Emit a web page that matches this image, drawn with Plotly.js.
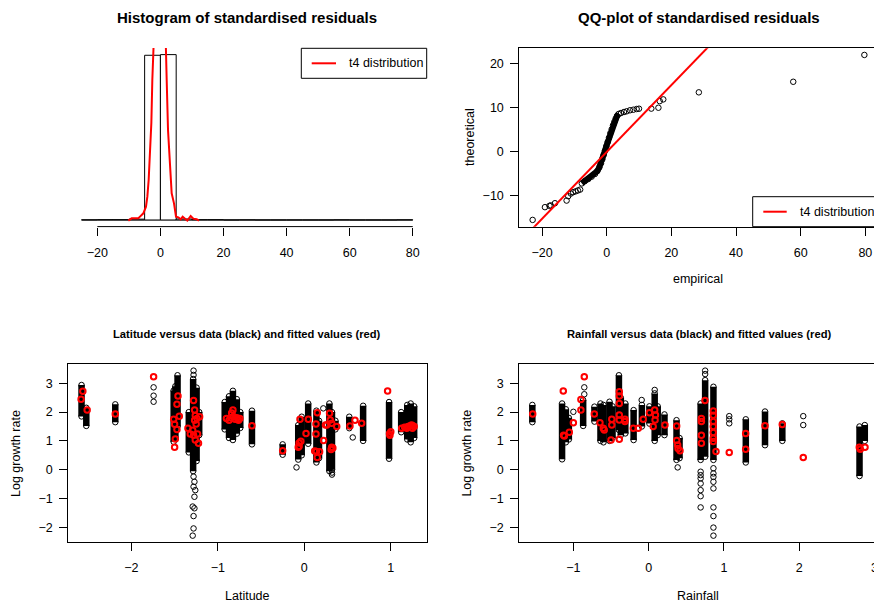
<!DOCTYPE html>
<html><head><meta charset="utf-8">
<script src="https://cdn.plot.ly/plotly-3.0.1.min.js"></script>
<style>html,body{margin:0;padding:0;overflow:hidden;background:#fff}</style>
</head><body>
<div id="chart" style="width:882px;height:603px"></div>
<script>
// ---------- Panel 1: histogram of standardised residuals ----------
const histMid  = [-22.5,-17.5,-12.5,-7.5,-2.5,2.5,7.5,12.5,17.5,22.5,27.5,32.5,37.5,42.5,47.5,52.5,57.5,62.5,67.5,72.5,77.5];
const histDens = [0.0001,0.0002,0.0002,0.0005,0.0989,0.0993,0.0006,0.0002,0.0002,0,0.0001,0,0,0,0,0,0.0001,0,0,0,0.0001];
const t4X = [-10.17,-9.11,-8.05,-7.0,-6.47,-5.41,-4.57,-4.14,-3.72,-3.30,-2.87,-2.56,-2.13,-1.6,-0.3,1.0,1.56,1.99,2.41,3.04,3.57,4.31,4.95,5.69,6.43,7.06,7.80,8.54,9.60,10.44,11.50,12.24];
const t4Y = [-0.0004,0.0010,0.0010,0.0010,0.0020,0.0040,0.0080,0.0140,0.0241,0.0381,0.0582,0.0842,0.1043,0.16,0.2,0.16,0.1043,0.0842,0.0541,0.0301,0.0160,0.0100,0.0020,0.0016,0.0004,0.0020,0.0008,-0.0004,0.0024,0.0008,0.0004,-0.0004];
const histTicks = [-20,0,20,40,60,80];

// ---------- Panel 2: QQ-plot ----------
const qqOuterEmp = [-22.9,-19.1,-17.7,-17.3,-16.0,-12.4,-11.9,-11.1,-10.4,-9.6,-8.9,-8.2,4.42,5.35,6.18,7.21,8.24,9.27,9.99,13.8,16.0,16.4,17.5,28.5,57.7,79.7];
const qqOuterThe = [-15.6,-12.7,-12.4,-12.3,-11.8,-11.2,-10.2,-9.6,-9.3,-9.1,-8.9,-8.7,8.70,8.93,9.09,9.32,9.45,9.61,9.68,9.7,9.9,11.4,11.8,13.4,15.8,21.9];
const qqDenseEmp = [-7.7,-6.71,-5.68,-4.65,-3.62,-2.90,-2.28,-1.76,-1.35,-0.94,-0.53,-0.11,0.30,0.71,1.12,1.54,1.95,2.36,2.77,3.19,3.70];
const qqDenseThe = [-7.3,-6.75,-6.30,-5.77,-5.16,-4.48,-3.64,-2.73,-1.82,-0.84,0.14,1.14,2.11,3.09,4.09,5.0,5.91,6.66,7.41,8.02,8.48];
const qqLineSlope = 0.76, qqLineIntercept = -0.15;
const qqLineX = [-40, 100];
const qqXTicks = [-20,0,20,40,60,80], qqYTicks = [-10,0,10,20];

// ---------- Panel 3: Latitude ----------
const latColX  = [-2.575,-2.52,-2.185,-1.51,-1.49,-1.465,-1.335,-1.285,-1.245,-1.215,-0.92,-0.87,-0.825,-0.78,-0.74,-0.605,-0.25,-0.07,-0.03,0.045,0.14,0.17,0.29,0.32,0.36,0.52,0.68,0.98,1.12,1.19,1.23,1.27];
const latColLo = [1.85,1.52,1.65,0.97,1.1,1.5,0.6,-0.05,0.3,1.2,1.4,1.1,1.03,1.25,1.45,0.88,0.52,0.35,0.5,0.9,0.25,0.4,-0.05,0.0,1.4,1.44,1.0,0.38,1.3,1.05,0.95,1.1];
const latColHi = [2.94,2.15,2.27,2.75,2.9,3.28,2.0,3.15,2.85,2.0,2.35,2.55,2.74,2.45,2.0,2.05,0.88,1.55,1.84,2.3,2.05,1.7,2.3,2.0,1.7,1.84,2.22,2.35,2.0,2.25,2.3,2.2];
const latPtX = [-1.742,-1.742,-1.742,-1.28,-1.28,-1.28,-1.27,-1.28,-1.26,-1.27,-1.29,-1.27,-1.28,-1.28,-1.29,-0.09,0.22,0.32,0.32,0.56];
const latPtY = [2.86,2.57,2.36,3.44,3.29,-0.24,-0.42,-0.59,-0.71,-0.94,-1.28,-1.34,-1.61,-2.04,-2.29,0.08,2.13,-0.1,-0.17,1.12];
const latFitX = [-2.58,-2.56,-2.51,-2.185,-1.742,-1.499,-1.491,-1.51,-1.472,-1.499,-1.472,-1.46,-1.445,-1.28,-1.268,-1.26,-1.24,-1.21,-1.345,-1.318,-1.28,-1.234,-1.26,-1.223,-1.29,-1.25,-1.268,-0.9,-0.87,-0.85,-0.825,-0.82,-0.80,-0.78,-0.76,-0.745,-0.84,-0.605,-0.25,-0.05,-0.06,-0.04,-0.06,-0.07,0.047,0.02,0.15,0.135,0.135,0.14,0.177,0.15,0.12,0.223,0.292,0.245,0.317,0.30,0.375,0.317,0.31,0.33,0.26,0.528,0.586,0.663,0.963,0.99,1.0,0.985,1.126,1.16,1.184,1.2,1.22,1.24,1.26,1.27,1.25];
const latFitY = [2.45,2.72,2.07,1.93,3.23,0.78,1.07,1.75,1.40,1.58,2.27,2.56,1.86,2.40,2.07,1.88,1.78,1.84,1.44,1.24,1.20,1.24,1.03,0.92,1.37,1.59,1.72,1.78,1.72,1.80,2.07,1.85,1.75,1.80,1.72,1.78,1.97,1.53,0.66,1.75,0.93,0.99,0.81,0.78,1.75,1.26,1.98,1.59,1.24,0.63,0.62,0.42,0.65,1.01,1.96,1.55,1.61,1.73,1.50,0.78,0.70,0.75,1.55,1.52,1.72,1.61,2.73,1.20,1.32,1.25,1.44,1.47,1.44,1.5,1.52,1.55,1.52,1.5,1.44];
const latXTicks = [-2,-1,0,1];

// ---------- Panel 4: Rainfall ----------
const rainColX  = [-1.545,-1.15,-1.10,-1.06,-0.87,-0.72,-0.64,-0.6,-0.52,-0.48,-0.395,-0.37,-0.31,-0.2,-0.09,0.01,0.08,0.12,0.21,0.37,0.41,0.69,0.75,0.86,1.29,1.545,1.775,2.8,2.87];
const rainColLo = [1.65,0.36,0.95,1.05,1.52,1.67,1.0,0.95,1.0,1.1,1.38,1.2,1.26,1.03,1.5,1.6,1.0,1.2,1.2,0.34,0.4,0.34,0.45,0.34,0.25,0.85,1.0,-0.22,1.0];
const rainColHi = [2.25,2.3,2.1,1.8,2.42,2.19,2.3,2.25,2.36,2.2,3.28,2.5,2.3,2.07,2.25,2.2,2.65,2.2,1.92,1.72,1.1,2.3,3.11,2.88,1.75,2.02,1.61,1.5,1.55];
const rainPtX = [-1.0,-0.855,-0.855,-0.093,0.08,0.385,0.69,0.69,0.69,0.69,0.69,0.69,0.69,0.75,0.75,0.86,0.86,0.86,0.86,0.86,0.86,0.86,0.86,0.86,1.07,1.07,1.07,2.053,2.053];
const rainPtY = [2.01,2.86,2.62,2.42,2.77,0.08,-0.07,-0.19,-0.30,-0.48,-0.71,-0.92,-1.31,3.32,3.44,0.05,-0.13,-0.25,-0.42,-0.65,-1.31,-1.61,-2.01,-2.29,1.86,1.75,1.61,1.86,1.55];
const rainFitX = [-1.54,-1.134,-1.12,-1.054,-1.0,-1.13,-0.855,-0.9,-0.9,-0.722,-0.647,-0.603,-0.59,-0.50,-0.49,-0.49,-0.39,-0.39,-0.39,-0.39,-0.39,-0.39,-0.315,-0.315,-0.204,-0.138,-0.072,0.01,0.06,0.08,0.09,0.085,0.216,0.372,0.372,0.385,0.39,0.416,0.70,0.70,0.70,0.70,0.748,0.858,0.858,0.858,0.858,0.858,0.858,0.858,0.894,1.07,1.288,1.288,1.545,1.774,2.053,2.797,2.81,2.873];
const rainFitY = [1.93,2.73,1.17,1.30,1.63,1.2,3.23,2.44,2.07,1.93,1.63,1.44,1.38,1.03,1.55,1.75,2.71,2.56,2.30,1.90,1.73,1.06,1.75,1.67,1.44,1.44,1.75,1.98,1.50,2.07,1.90,1.73,1.55,1.52,1.01,0.86,0.74,0.66,1.78,1.67,1.20,0.92,2.40,2.04,1.89,1.67,1.50,1.29,1.09,0.98,0.63,0.60,1.26,0.71,1.53,1.57,0.42,0.78,0.71,0.78];
const rainXTicks = [-1,0,1,2,3];
const growthTicks = [-2,-1,0,1,2,3];

// ---------- drawing ----------
const W = 882, H = 603;
const px = v => v / W, py = v => 1 - v / H;
const FONT = 'Liberation Sans, Arial, Helvetica, sans-serif';
const black = 'black', red = '#FF0000';

function columns(xs, lo, hi, xa, ya) {
  const x = [], y = [];
  xs.forEach((v, i) => { x.push(v, v, null); y.push(lo[i], hi[i], null); });
  return [{type:'scatter', mode:'lines', x, y, xaxis:xa, yaxis:ya, line:{color:black, width:6.5}, hoverinfo:'skip', showlegend:false},
          {type:'scatter', mode:'markers', x: xs.concat(xs), y: lo.concat(hi), xaxis:xa, yaxis:ya,
           marker:{symbol:'circle-open', size:5.5, color:black, line:{width:1}}, hoverinfo:'skip', showlegend:false}];
}
function pts(x, y, xa, ya, col, lw) {
  return {type:'scatter', mode:'markers', x, y, xaxis:xa, yaxis:ya,
    marker:{symbol:'circle-open', size:5.5, color:col, line:{width:lw}}, hoverinfo:'skip', showlegend:false};
}

const traces = [
  {type:'bar', x: histMid, y: histDens, width: 5, xaxis:'x', yaxis:'y',
   marker:{color:'white', line:{color:black, width:1}}, hoverinfo:'skip', showlegend:false},
  {type:'scatter', mode:'lines', x: t4X, y: t4Y, xaxis:'x', yaxis:'y', line:{color:red, width:2}, hoverinfo:'skip', showlegend:false},
  {type:'scatter', mode:'lines+markers', x: qqDenseEmp, y: qqDenseThe, xaxis:'x2', yaxis:'y2',
   line:{color:black, width:6}, marker:{symbol:'circle-open', size:5.5, color:black, line:{width:1}}, hoverinfo:'skip', showlegend:false},
  pts(qqOuterEmp, qqOuterThe, 'x2', 'y2', black, 1),
  {type:'scatter', mode:'lines', x: qqLineX, y: qqLineX.map(v => qqLineSlope * v + qqLineIntercept), xaxis:'x2', yaxis:'y2',
   line:{color:red, width:2}, hoverinfo:'skip', showlegend:false},
  ...columns(latColX, latColLo, latColHi, 'x3', 'y3'),
  pts(latPtX, latPtY, 'x3', 'y3', black, 1),
  pts(latFitX, latFitY, 'x3', 'y3', red, 2),
  ...columns(rainColX, rainColLo, rainColHi, 'x4', 'y4'),
  pts(rainPtX, rainPtY, 'x4', 'y4', black, 1),
  pts(rainFitX, rainFitY, 'x4', 'y4', red, 2)
];

const tickFont = {family: FONT, size: 12.5, color: black};
function boxAxis(extra) {
  return Object.assign({showline:true, mirror:true, linecolor:black, linewidth:1, ticks:'outside', ticklen:8,
    tickcolor:black, tickwidth:1, showgrid:false, zeroline:false, tickfont:tickFont, tickmode:'array', fixedrange:true}, extra);
}

const layout = {
  width: W, height: H, margin:{l:0, r:0, t:0, b:0}, paper_bgcolor:'white', plot_bgcolor:'white',
  showlegend:false, font:{family: FONT, color: black},
  xaxis: {domain:[px(68.3), px(426)], range:[-29.2, 84.2], anchor:'y', showline:false, ticks:'outside', ticklen:8,
          tickcolor:black, tickwidth:1, showgrid:false, zeroline:false, tickfont:tickFont, tickmode:'array', tickvals: histTicks, ticklabelstandoff: 6},
  yaxis: {domain:[py(226.6), py(48)], range:[-0.00397, 0.10327], anchor:'x', visible:false},
  xaxis2: boxAxis({domain:[px(519.3), px(878.6)], range:[-27.03, 84.1], anchor:'y2', tickvals: qqXTicks, ticklabelstandoff: 6}),
  yaxis2: boxAxis({domain:[py(226.7), py(48.3)], range:[-17.14, 23.41], anchor:'x2', tickvals: qqYTicks, ticklabelstandoff: 4}),
  xaxis3: boxAxis({domain:[px(68.3), px(426.7)], range:[-2.728, 1.415], anchor:'y3', tickvals: latXTicks, ticklabelstandoff: 6}),
  yaxis3: boxAxis({domain:[py(542.3), py(364.3)], range:[-2.521, 3.66], anchor:'x3', tickvals: growthTicks, ticklabelstandoff: 4}),
  xaxis4: boxAxis({domain:[px(519.3), px(880.6)], range:[-1.718, 3.08], anchor:'y4', tickvals: rainXTicks, ticklabelstandoff: 6}),
  yaxis4: boxAxis({domain:[py(542.3), py(364.3)], range:[-2.521, 3.66], anchor:'x4', tickvals: growthTicks, ticklabelstandoff: 4}),
  shapes: [
    {type:'line', xref:'x', yref:'y', x0:-25, x1:80, y0:0, y1:0, line:{color:'#555', width:1}, layer:'below'},
    {type:'line', xref:'x', yref:'y domain', x0:histTicks[0], x1:histTicks[histTicks.length-1], y0:0, y1:0, line:{color:black, width:1}},
    {type:'rect', xref:'paper', yref:'paper', x0:px(301.3), x1:px(426.7), y0:py(78.3), y1:py(48.3), line:{color:black, width:1}, fillcolor:'white'},
    {type:'line', xref:'paper', yref:'paper', x0:px(311.7), x1:px(336), y0:py(63.3), y1:py(63.3), line:{color:red, width:2}},
    {type:'rect', xref:'paper', yref:'paper', x0:px(752.7), x1:px(900), y0:py(226.7), y1:py(196.7), line:{color:black, width:1}, fillcolor:'white'},
    {type:'line', xref:'paper', yref:'paper', x0:px(763.3), x1:px(786.7), y0:py(211.7), y1:py(211.7), line:{color:red, width:2}}
  ],
  annotations: []
};

function ann(text, x, y, opts) {
  layout.annotations.push(Object.assign({text, xref:'paper', yref:'paper', x:px(x), y:py(y), xanchor:'center', yanchor:'middle',
    showarrow:false, font:{family: FONT, size:12.5, color:black}}, opts || {}));
}
const bold15 = {font:{family: FONT, size:15, color:black, weight:'bold'}};
const bold11 = {font:{family: FONT, size:11.2, color:black, weight:'bold'}};
ann('Histogram of standardised residuals', 247.2, 18, bold15);
ann('QQ-plot of standardised residuals', 698.5, 18, bold15);
ann('Latitude versus data (black) and fitted values (red)', 247.5, 334, bold11);
ann('Rainfall versus data (black) and fitted values (red)', 698.5, 334, bold11);
ann('empirical', 698.3, 279.3);
ann('theoretical', 469.5, 137.5, {textangle:-90});
ann('Latitude', 247.5, 596);
ann('Log growth rate', 16.7, 453.3, {textangle:-90});
ann('Log growth rate', 467.3, 453.3, {textangle:-90});
ann('Rainfall', 698.3, 596);
ann('t4 distribution', 346.7, 63.3, {xanchor:'left'});
ann('t4 distribution', 798.3, 211.7, {xanchor:'left'});

Plotly.newPlot('chart', traces, layout, {staticPlot:true, displayModeBar:false});
</script>
</body></html>
